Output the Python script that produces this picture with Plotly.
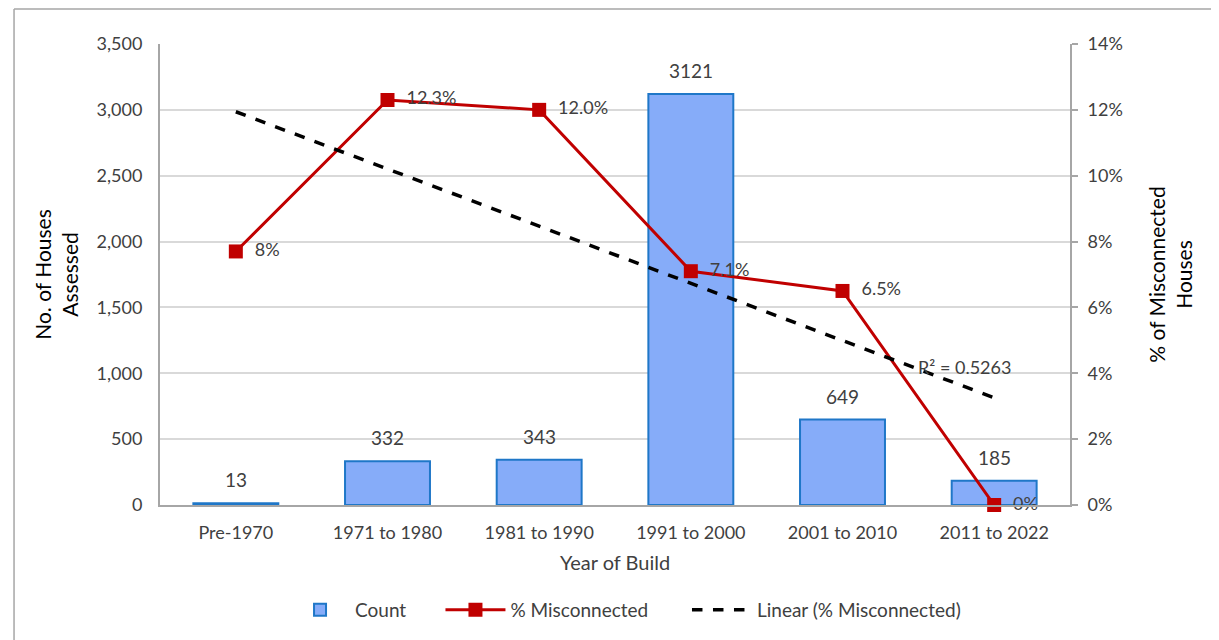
import numpy as np
import plotly.graph_objects as go

categories = ["Pre-1970", "1971 to 1980", "1981 to 1990", "1991 to 2000", "2001 to 2010", "2011 to 2022"]
counts = [13, 332, 343, 3121, 649, 185]
pct_misconnected = [7.7, 12.3, 12.0, 7.1, 6.5, 0.0]
pct_labels = ["8%", "12.3%", "12.0%", "7.1%", "6.5%", "0%"]
r2_text = "R² = 0.5263"

FONT = "Lato, Calibri, Carlito, sans-serif"
TXT = "#404040"

xi = np.arange(1, len(categories) + 1)
slope, intercept = np.polyfit(xi, pct_misconnected, 1)
trend = slope * xi + intercept

fig = go.Figure()
fig.add_trace(go.Bar(
    x=categories, y=counts, name="Count", legend="legend",
    marker=dict(color="#86ACF9", line=dict(color="#1F77C8", width=2)),
    width=0.56,
))
fig.add_trace(go.Scatter(
    x=categories, y=pct_misconnected, name="% Misconnected", yaxis="y2", legend="legend2",
    mode="lines+markers+text",
    line=dict(color="#C00000", width=3),
    marker=dict(symbol="square", size=14, color="#C00000"),
    text=["  " + t for t in pct_labels], textposition="middle right",
    textfont=dict(size=18, color=TXT, family=FONT),
    cliponaxis=False,
))
fig.add_trace(go.Scatter(
    x=categories, y=trend, name="Linear (% Misconnected)", yaxis="y2", legend="legend3",
    mode="lines", line=dict(color="black", width=3.5, dash="dash"),
))

for c, v in zip(categories, counts):
    fig.add_annotation(
        x=c, y=v, xref="x", yref="y", text=str(v), showarrow=False,
        xanchor="center", yanchor="bottom", yshift=10,
        font=dict(size=19, color=TXT, family=FONT),
    )

fig.add_annotation(
    x=categories[5], y=trend[5], xref="x", yref="y2",
    text=r2_text, showarrow=False, xanchor="center", yanchor="bottom",
    xshift=-30, yshift=18,
    font=dict(size=18, color=TXT, family=FONT),
)

# outer chart frame
fig.add_shape(type="line", xref="paper", yref="paper", x0=-0.1604, x1=1.2, y0=1.0758, y1=1.0758,
              line=dict(color="#A6A6A6", width=1.5))
fig.add_shape(type="line", xref="paper", yref="paper", x0=-0.1604, x1=-0.1604, y0=1.0758, y1=-0.4,
              line=dict(color="#A6A6A6", width=1.5))

leg_common = dict(orientation="h", y=-0.225, yanchor="middle", xanchor="left",
                  font=dict(size=19, color=TXT, family=FONT), itemwidth=60,
                  bgcolor="rgba(0,0,0,0)")

fig.update_layout(
    width=1211, height=632,
    margin=dict(l=152, r=149, t=36, b=134),
    plot_bgcolor="white", paper_bgcolor="white",
    font=dict(family=FONT, size=18, color=TXT),
    bargap=0.44,
    showlegend=True,
    legend=dict(x=0.1374, **leg_common),
    legend2=dict(x=0.3082, **leg_common),
    legend3=dict(x=0.5791, **leg_common),
    xaxis=dict(
        title=dict(text="Year of Build", font=dict(size=20, color=TXT, family=FONT), standoff=14),
        showline=True, linecolor="#A6A6A6", linewidth=2, showgrid=False,
        ticks="", ticklabelstandoff=10, tickfont=dict(size=18, color=TXT, family=FONT),
    ),
    yaxis=dict(
        title=dict(text="No. of Houses<br>Assessed", font=dict(size=21, color="black", family=FONT), standoff=12),
        range=[0, 3500], dtick=500, tickformat=",",
        showline=True, linecolor="#A6A6A6", linewidth=2,
        showgrid=True, gridcolor="#D9D9D9", gridwidth=1.5,
        ticks="", ticklabelstandoff=12, tickfont=dict(size=18, color=TXT, family=FONT),
        zeroline=False,
    ),
    yaxis2=dict(
        title=dict(text="% of Misconnected<br>Houses", font=dict(size=21, color="black", family=FONT), standoff=28),
        overlaying="y", side="right",
        range=[0, 14], dtick=2, ticksuffix="%",
        showline=True, linecolor="#A6A6A6", linewidth=2,
        showgrid=False, ticks="outside", ticklen=6, tickcolor="#A6A6A6", tickwidth=2,
        ticklabelstandoff=6,
        tickfont=dict(size=18, color=TXT, family=FONT),
        zeroline=False,
    ),
)

fig.write_html("out.html")
